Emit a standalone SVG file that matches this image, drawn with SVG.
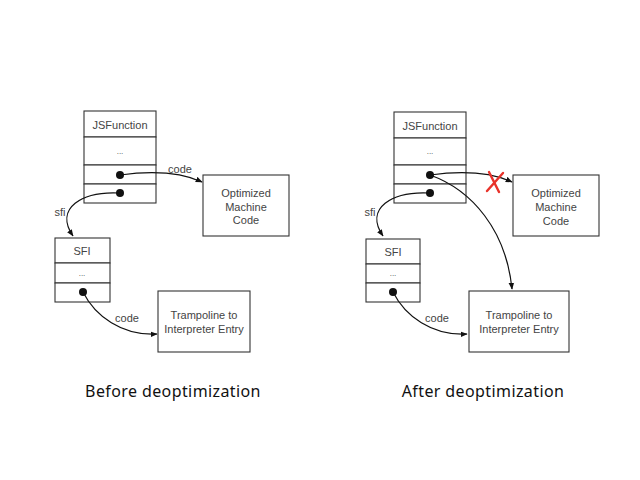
<svg xmlns="http://www.w3.org/2000/svg" width="640" height="480" viewBox="0 0 640 480">
<style>
.box{fill:#fff;stroke:#333;stroke-width:1.1}
.t{font-family:"Liberation Sans",Arial,sans-serif;font-size:11px;fill:#444;text-anchor:middle}
.cap{font-family:"Noto Sans","DejaVu Sans",sans-serif;font-size:16px;letter-spacing:0.4px;fill:#111;text-anchor:middle}
.c{fill:none;stroke:#111;stroke-width:1.2}
.dot{fill:#111}
.x{stroke:#e8322a;stroke-width:2.4;stroke-linecap:round;fill:none}
</style>
<defs>
<marker id="ah" viewBox="0 0 10 10" refX="9" refY="5" markerWidth="7" markerHeight="7" orient="auto" markerUnits="userSpaceOnUse">
<path d="M0,1 L10,5 L0,9 Z" fill="#111"/>
</marker>
</defs>
<rect width="640" height="480" fill="#fff"/>

<g id="left-jsfunction">
<rect class="box" x="84" y="111" width="72" height="26"/>
<rect class="box" x="84" y="137" width="72" height="28"/>
<rect class="box" x="84" y="165" width="72" height="19"/>
<rect class="box" x="84" y="184" width="72" height="19"/>
<text class="t" x="120" y="129">JSFunction</text>
<text class="t" x="120" y="154" style="font-size:8px">...</text>
<circle class="dot" cx="120" cy="175" r="4"/>
<circle class="dot" cx="120" cy="193" r="4"/>
</g>
<g id="left-optimized">
<rect class="box" x="203" y="175" width="86" height="61"/>
<text class="t" x="246" y="197">Optimized</text>
<text class="t" x="246" y="211">Machine</text>
<text class="t" x="246" y="224">Code</text>
</g>
<g id="left-sfi">
<rect class="box" x="55" y="238" width="55" height="25"/>
<rect class="box" x="55" y="263" width="55" height="20"/>
<rect class="box" x="55" y="283" width="55" height="19"/>
<text class="t" x="82" y="255">SFI</text>
<text class="t" x="82" y="276" style="font-size:8px">...</text>
<circle class="dot" cx="83" cy="292" r="4"/>
</g>
<g id="left-trampoline">
<rect class="box" x="158" y="291" width="92" height="61"/>
<text class="t" x="204" y="319">Trampoline to</text>
<text class="t" x="204" y="333">Interpreter Entry</text>
</g>

<g id="right-jsfunction">
<rect class="box" x="394" y="112" width="72" height="26"/>
<rect class="box" x="394" y="138" width="72" height="27"/>
<rect class="box" x="394" y="165" width="72" height="19"/>
<rect class="box" x="394" y="184" width="72" height="19"/>
<text class="t" x="430" y="130">JSFunction</text>
<text class="t" x="430" y="154" style="font-size:8px">...</text>
<circle class="dot" cx="430" cy="175" r="4"/>
<circle class="dot" cx="430" cy="193" r="4"/>
</g>
<g id="right-optimized">
<rect class="box" x="513" y="175" width="86" height="61"/>
<text class="t" x="556" y="197">Optimized</text>
<text class="t" x="556" y="211">Machine</text>
<text class="t" x="556" y="225">Code</text>
</g>
<g id="right-sfi">
<rect class="box" x="366" y="239" width="54" height="25"/>
<rect class="box" x="366" y="264" width="54" height="19"/>
<rect class="box" x="366" y="283" width="54" height="19"/>
<text class="t" x="393" y="256">SFI</text>
<text class="t" x="393" y="276" style="font-size:8px">...</text>
<circle class="dot" cx="393" cy="292" r="4"/>
</g>
<g id="right-trampoline">
<rect class="box" x="469" y="291" width="100" height="61"/>
<text class="t" x="519" y="319">Trampoline to</text>
<text class="t" x="519" y="333">Interpreter Entry</text>
</g>

<g id="connectors">
<path class="c" d="M120,175 C150,171 178,171 202,182" marker-end="url(#ah)"/>
<path class="c" d="M120,193 C82,191 54,208 73,236" marker-end="url(#ah)"/>
<path class="c" d="M83,292 C95,316 122,336 157,334" marker-end="url(#ah)"/>
<path class="c" d="M430,175 C460,171 488,171 512,182" marker-end="url(#ah)"/>
<path class="c" d="M430,175 C472,190 506,230 512,289" marker-end="url(#ah)"/>
<path class="c" d="M430,193 C392,191 364,208 383,236" marker-end="url(#ah)"/>
<path class="c" d="M393,292 C405,316 432,336 467,334" marker-end="url(#ah)"/>
<path class="x" d="M489,172 L499,192 M503,173 L487,191"/>
<text class="t" x="180" y="173">code</text>
<text class="t" x="60" y="216">sfi</text>
<text class="t" x="127" y="322">code</text>
<text class="t" x="370" y="216">sfi</text>
<text class="t" x="437" y="322">code</text>
</g>

<text class="cap" x="173" y="397">Before deoptimization</text>
<text class="cap" x="483" y="397">After deoptimization</text>
</svg>
